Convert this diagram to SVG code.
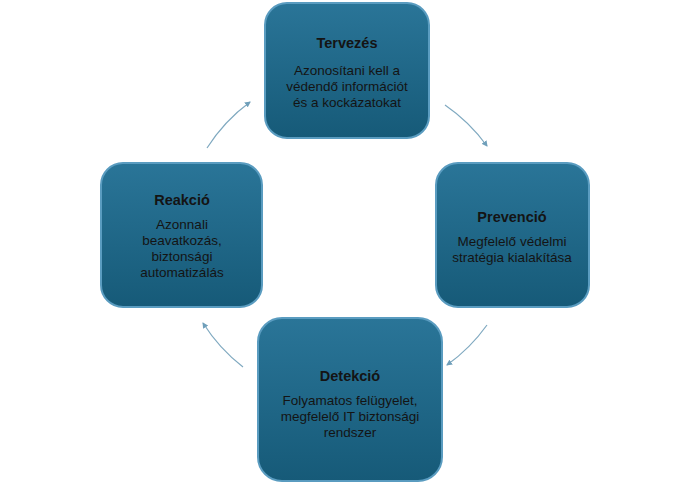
<svg xmlns="http://www.w3.org/2000/svg" width="691" height="486" viewBox="0 0 691 486">
<defs>
<linearGradient id="g" x1="0" y1="0" x2="0" y2="1">
<stop offset="0" stop-color="#2a7598"/><stop offset="1" stop-color="#165a78"/>
</linearGradient>
<marker id="a" markerWidth="6" markerHeight="6" refX="5" refY="3" orient="auto" markerUnits="userSpaceOnUse">
<path d="M0,0 L6,3 L0,6 Z" fill="#6f9fba"/>
</marker>
<style>
.b{fill:url(#g);stroke:#5a9cc0;stroke-width:2}
.t{font-family:"Liberation Sans",Arial,sans-serif;font-size:13.5px;fill:#141414;text-anchor:middle}
.h{font-weight:bold;font-size:14.5px}
.c{fill:none;stroke:#7fa9c0;stroke-width:1.2;marker-end:url(#a)}
</style>
</defs>
<rect width="691" height="486" fill="#fff"/>
<g id="connectors">
<path class="c" d="M445,105 A172,172 0 0 1 487,146"/>
<path class="c" d="M487,325 A172,172 0 0 1 447,365"/>
<path class="c" d="M243,367 A172,172 0 0 1 203,323"/>
<path class="c" d="M207,148 A172,172 0 0 1 250,102"/>
</g>
<g id="tervezes">
<rect class="b" x="265" y="3" width="164" height="135" rx="22"/>
<text class="t h" x="347" y="48">Tervezés</text>
<text class="t" x="347" y="75">Azonosítani kell a</text>
<text class="t" x="347" y="91">védendő információt</text>
<text class="t" x="347" y="107">és a kockázatokat</text>
</g>
<g id="prevencio">
<rect class="b" x="436" y="163" width="153" height="144" rx="22"/>
<text class="t h" x="512" y="222">Prevenció</text>
<text class="t" x="512" y="246">Megfelelő védelmi</text>
<text class="t" x="512" y="262">stratégia kialakítása</text>
</g>
<g id="detekcio">
<rect class="b" x="258" y="318" width="184" height="163" rx="24"/>
<text class="t h" x="350" y="381">Detekció</text>
<text class="t" x="350" y="405">Folyamatos felügyelet,</text>
<text class="t" x="350" y="421">megfelelő IT biztonsági</text>
<text class="t" x="350" y="437">rendszer</text>
</g>
<g id="reakcio">
<rect class="b" x="101" y="163" width="161" height="144" rx="22"/>
<text class="t h" x="182" y="205">Reakció</text>
<text class="t" x="182" y="229">Azonnali</text>
<text class="t" x="182" y="245">beavatkozás,</text>
<text class="t" x="182" y="261">biztonsági</text>
<text class="t" x="182" y="277">automatizálás</text>
</g>
</svg>
